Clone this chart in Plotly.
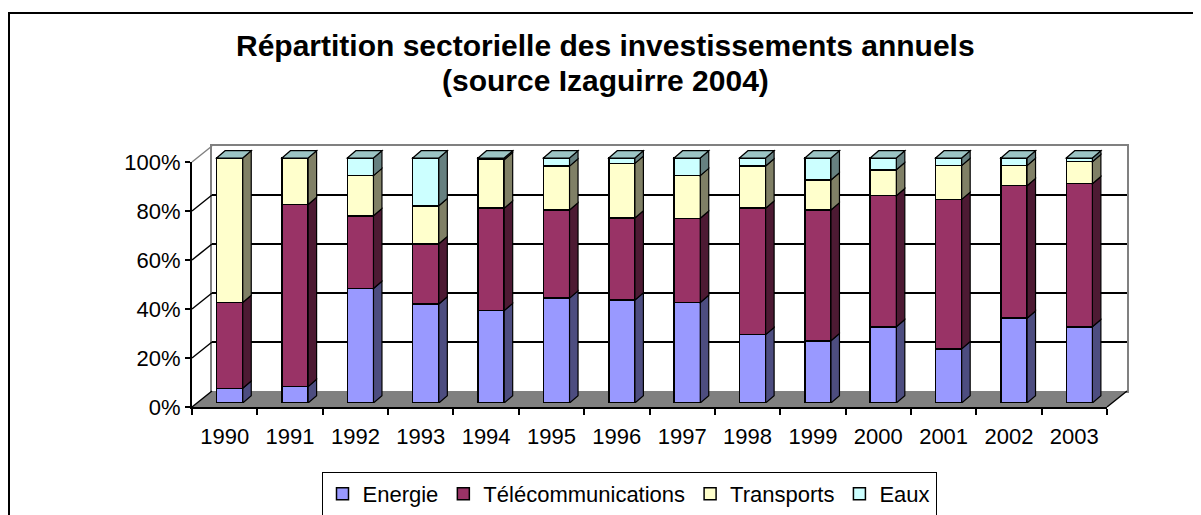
import plotly.graph_objects as go

# ---------------- data (percent of annual investment) ----------------
years = ["1990", "1991", "1992", "1993", "1994", "1995", "1996",
         "1997", "1998", "1999", "2000", "2001", "2002", "2003"]
energie = [6.0, 6.7, 46.7, 40.4, 37.7, 42.8, 42.0, 41.0, 27.9, 25.4, 31.1, 22.1, 34.6, 31.1]
telecom = [35.0, 74.3, 29.7, 24.6, 41.8, 36.0, 33.5, 34.4, 51.6, 53.4, 53.5, 61.0, 54.1, 58.4]
transports = [59.0, 19.0, 16.4, 15.5, 19.8, 17.9, 22.3, 17.4, 17.2, 12.2, 10.6, 13.8, 8.2, 9.0]
eaux = [0.0, 0.0, 7.2, 19.5, 0.7, 3.3, 2.2, 7.2, 3.3, 9.0, 4.8, 3.1, 3.1, 1.5]
y_ticks = [0, 20, 40, 60, 80, 100]
y_tick_labels = ["0%", "20%", "40%", "60%", "80%", "100%"]
series_names = ["Energie", "Télécommunications", "Transports", "Eaux"]

# ---------------- styling ----------------
front_colors = ["#9999FF", "#993366", "#FFFFCC", "#CCFFFF"]
side_colors = ["#4D4D80", "#4D1A33", "#808066", "#668080"]
top_color = "#9CC4C4"
FONT = "Arial, Liberation Sans, sans-serif"

# the page body has an 8px margin: figure occupies screen pixels 8..1201 x 8..515
OFF = 8
W, H = 1201 - OFF, 515 - OFF
def fx(p):
    return (p - OFF) / W
def fy(p):
    return 1 - (p - OFF) / H

# geometry (screen pixels of the reference)
FX0, FX1, FY0, FY100 = 192, 1107, 407, 162      # front plane
DX, DY = 20, -16                                  # depth of the floor
BX0, BX1, BY0 = 197, 1112, 403                    # plane of bar front faces
PX_PER_PCT = (FY0 - FY100) / 100.0
Y2_MAX = 105
BAR_W = 0.4
SIDE_DX = 8.5 / ((BX1 - BX0) / len(years))
SIDE_DY = 7.3 / PX_PER_PCT

fig = go.Figure()

# back wall subplot (x, y): only gridlines and grey border
fig.add_trace(go.Scatter(x=[0.5], y=[50], mode="markers", marker=dict(opacity=0),
                         showlegend=False, hoverinfo="skip", xaxis="x", yaxis="y"))

# bars (x2, y2)
series = [energie, telecom, transports, eaux]
for name, vals, col in zip(series_names, series, front_colors):
    fig.add_trace(go.Bar(x=years, y=vals, name=name, width=BAR_W,
                         marker=dict(color=col, line=dict(color="black", width=1.5)),
                         xaxis="x2", yaxis="y2"))

# front plane axes (x3, y3): labels and axis lines only
fig.add_trace(go.Scatter(x=[0], y=[50], mode="markers", marker=dict(opacity=0),
                         showlegend=False, hoverinfo="skip", xaxis="x3", yaxis="y3"))

shapes = []
# floor (dark grey parallelogram)
shapes.append(dict(type="path", xref="paper", yref="paper", layer="below",
                   path=f"M{fx(FX0)},{fy(FY0)} L{fx(FX1)},{fy(FY0)} L{fx(FX1+DX)},{fy(FY0+DY)} "
                        f"L{fx(FX0+DX)},{fy(FY0+DY)} Z",
                   fillcolor="#808080", line=dict(width=0)))
# right edge of floor
shapes.append(dict(type="line", xref="paper", yref="paper", layer="above",
                   x0=fx(FX1), y0=fy(FY0), x1=fx(FX1+DX), y1=fy(FY0+DY),
                   line=dict(color="black", width=1.5)))
# diagonal wall-side lines at each y tick
for v in y_ticks:
    yf = FY0 - v * PX_PER_PCT
    shapes.append(dict(type="line", xref="paper", yref="paper", layer="above",
                       x0=fx(FX0), y0=fy(yf), x1=fx(FX0+DX), y1=fy(yf+DY),
                       line=dict(color="#808080" if v == 100 else "black", width=1.5)))

# 3D side and top faces of bars, computed from the data
for i in range(len(years)):
    base = 0.0
    xr = i + BAR_W / 2
    for k, vals in enumerate(series):
        top = base + vals[i]
        if vals[i] > 0:
            shapes.append(dict(type="path", xref="x2", yref="y2", layer="above",
                               path=f"M{xr},{base} L{xr+SIDE_DX},{base+SIDE_DY} "
                                    f"L{xr+SIDE_DX},{top+SIDE_DY} L{xr},{top} Z",
                               fillcolor=side_colors[k], line=dict(color="black", width=1.2)))
        base = top
    xl = i - BAR_W / 2
    shapes.append(dict(type="path", xref="x2", yref="y2", layer="above",
                       path=f"M{xl},{base} L{xl+SIDE_DX},{base+SIDE_DY} "
                            f"L{xr+SIDE_DX},{base+SIDE_DY} L{xr},{base} Z",
                       fillcolor=top_color, line=dict(color="black", width=1.2)))

# outer chart border (left and top edges visible)
shapes.append(dict(type="rect", xref="paper", yref="paper", layer="above",
                   x0=fx(9), y0=fy(13), x1=1.05, y1=-0.05,
                   line=dict(color="black", width=2), fillcolor="rgba(0,0,0,0)"))

annotations = [
    dict(text="<b>Répartition sectorielle des investissements annuels</b>",
         xref="paper", yref="paper", x=fx(605), y=fy(46), xanchor="center", yanchor="middle",
         showarrow=False, font=dict(family=FONT, size=30, color="black")),
    dict(text="<b>(source Izaguirre 2004)</b>",
         xref="paper", yref="paper", x=fx(605), y=fy(80), xanchor="center", yanchor="middle",
         showarrow=False, font=dict(family=FONT, size=30, color="black")),
]

fig.update_layout(
    width=W, height=H,
    margin=dict(l=0, r=0, t=0, b=0, pad=0, autoexpand=False),
    paper_bgcolor="white",
    plot_bgcolor="rgba(0,0,0,0)",
    barmode="stack",
    font=dict(family=FONT, size=22, color="black"),
    showlegend=True,
    legend=dict(orientation="h", x=fx(629), xanchor="center", y=fy(494), yanchor="middle",
                traceorder="normal", bordercolor="black", borderwidth=1, bgcolor="white",
                itemwidth=30, font=dict(family=FONT, size=22, color="black")),
    shapes=shapes,
    annotations=annotations,
    # back wall
    xaxis=dict(domain=[fx(FX0+DX), fx(FX1+DX)], range=[0, 1], anchor="y",
               showgrid=False, zeroline=False, showticklabels=False, ticks="",
               showline=True, linecolor="#808080", linewidth=2, mirror=True, fixedrange=True),
    yaxis=dict(domain=[fy(FY0+DY), fy(FY100+DY)], range=[0, 100], anchor="x",
               tickmode="array", tickvals=y_ticks[1:-1], showticklabels=False, ticks="",
               showgrid=True, gridcolor="black", gridwidth=1.5, zeroline=False,
               showline=True, linecolor="#808080", linewidth=2, mirror=True, fixedrange=True),
    # bars
    xaxis2=dict(domain=[fx(BX0), fx(BX1)], type="category", range=[-0.5, len(years) - 0.5],
                anchor="y2", visible=False, fixedrange=True),
    yaxis2=dict(domain=[fy(BY0), fy(BY0 - Y2_MAX * PX_PER_PCT)], range=[0, Y2_MAX],
                anchor="x2", visible=False, fixedrange=True),
    # front plane axes (labels)
    xaxis3=dict(domain=[fx(FX0), fx(FX1)], range=[-0.5, len(years) - 0.5], anchor="y3",
                tickmode="array", tickvals=list(range(len(years))), ticktext=years,
                ticks="", ticklabelstandoff=9, showgrid=False, zeroline=False,
                showline=True, linecolor="black", linewidth=2,
                minor=dict(ticks="outside", ticklen=6, tickwidth=1.5, tickcolor="black",
                           tick0=0.5, dtick=1, showgrid=False),
                tickfont=dict(family=FONT, size=22, color="black"), fixedrange=True),
    yaxis3=dict(domain=[fy(FY0), fy(FY100)], range=[0, 100], anchor="x3",
                tickmode="array", tickvals=y_ticks, ticktext=y_tick_labels,
                ticks="outside", ticklen=5, tickwidth=1.5, tickcolor="black",
                showgrid=False, zeroline=False, showline=True, linecolor="black", linewidth=2,
                tickfont=dict(family=FONT, size=22, color="black"), fixedrange=True),
)

fig.write_html("out.html")
